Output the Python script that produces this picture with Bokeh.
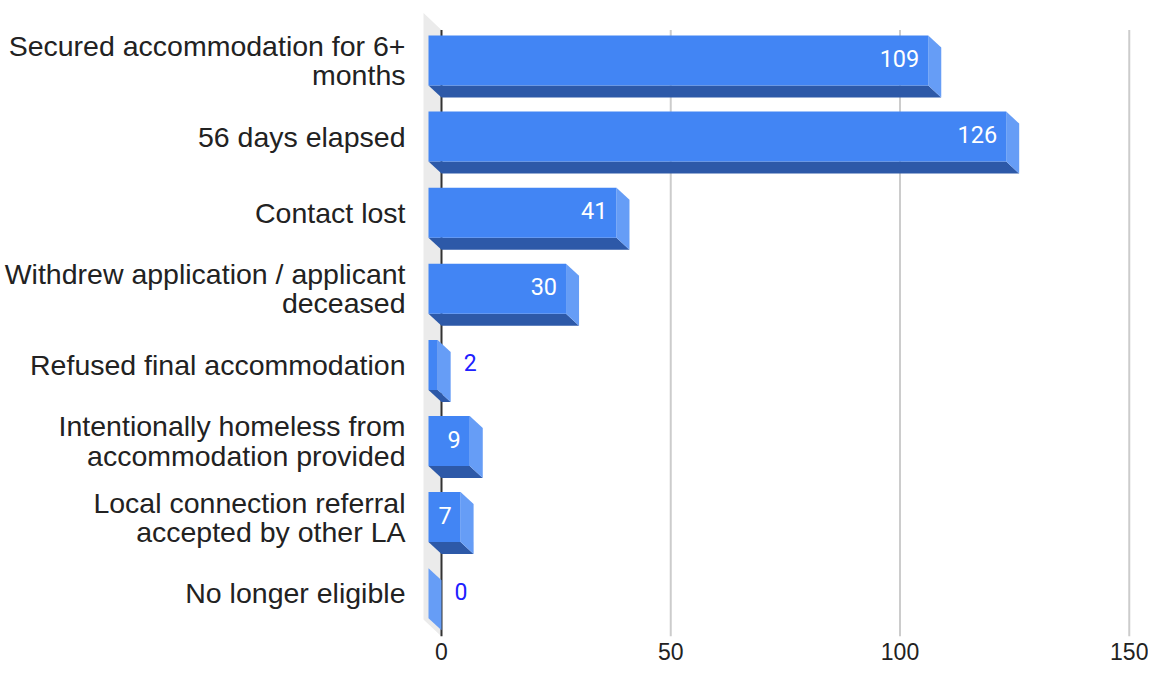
from bokeh.plotting import figure
from bokeh.models import Range1d, FixedTicker, ColumnDataSource
from bokeh.core.properties import value
from bokeh.embed import file_html
from bokeh.resources import INLINE

# ---------------- data ----------------
categories = [
    "Secured accommodation for 6+\nmonths",
    "56 days elapsed",
    "Contact lost",
    "Withdrew application / applicant\ndeceased",
    "Refused final accommodation",
    "Intentionally homeless from\naccommodation provided",
    "Local connection referral\naccepted by other LA",
    "No longer eligible",
]
values = [109, 126, 41, 30, 2, 9, 7, 0]
x_ticks = [0, 50, 100, 150]

# ---------------- layout constants (pixels) ----------------
W, H = 1148, 664
FRAME_LEFT = 415          # canvas px of frame left edge
BOTTOM_BORDER = 28
ZERO_PX = 441             # canvas px of the value 0 (back plane)
PX_X = 4.585              # pixels per value unit
FIRST_CAT_PX = 60         # canvas px of the first category centre
PX_Y = 76.1               # pixels per category step

x_start = (FRAME_LEFT - ZERO_PX) / PX_X
x_end = (W - ZERO_PX) / PX_X
frame_bottom = H - BOTTOM_BORDER
y_top = (0 - FIRST_CAT_PX) / PX_Y
y_bottom = (frame_bottom - FIRST_CAT_PX) / PX_Y

DX = 13 / PX_X     # 3D depth (x)
DY = 12 / PX_Y     # 3D depth (y)
HH = 25 / PX_Y     # half height of bar front face
DXW = 18 / PX_X    # wall depth
DYW = 17 / PX_Y
top_back = -0.5 + 0.1

FRONT = "#4285f4"
SIDE = "#669df6"
BOTTOM = "#2d59a8"

p = figure(width=W, height=H, output_backend="svg", toolbar_location=None,
           x_range=Range1d(x_start, x_end), y_range=Range1d(y_bottom, y_top),
           min_border_left=FRAME_LEFT, min_border_right=0, min_border_top=0,
           min_border_bottom=BOTTOM_BORDER)
p.outline_line_color = None
p.xgrid.visible = False
p.ygrid.visible = False
p.background_fill_color = "white"
p.border_fill_color = "white"

# wall (light gray, left side)
p.patch([-DXW, 0, 0, -DXW],
        [top_back - DYW, top_back, y_bottom, y_bottom - DYW],
        fill_color="#ebebeb", line_color=None)

# gridlines
grid_x = [t for t in x_ticks if t != 0]
p.segment(x0=grid_x, y0=[top_back] * len(grid_x), x1=grid_x, y1=[y_bottom] * len(grid_x),
          line_color="#cccccc", line_width=2)
# baseline axis line
p.segment(x0=[0], y0=[top_back], x1=[0], y1=[y_bottom], line_color="#333333", line_width=2)

n = len(values)
idx = list(range(n))

# bottom faces
p.patches(xs=[[-DX, v - DX, v, 0] for v in values],
          ys=[[i + HH, i + HH, i + HH + DY, i + HH + DY] for i in idx],
          fill_color=BOTTOM, line_color=None)
# side faces
p.patches(xs=[[v - DX, v, v, v - DX] for v in values],
          ys=[[i - HH, i - HH + DY, i + HH + DY, i + HH] for i in idx],
          fill_color=SIDE, line_color=None)
# front faces
p.quad(left=[-DX] * n, right=[v - DX for v in values],
       top=[i - HH for i in idx], bottom=[i + HH for i in idx],
       fill_color=FRONT, line_color=None)

# value labels
inside = [v * PX_X >= len(str(v)) * 13 + 16 for v in values]
src_in = ColumnDataSource(dict(x=[v - DX for v, f in zip(values, inside) if f],
                               y=[i for i, f in zip(idx, inside) if f],
                               t=[str(v) for v, f in zip(values, inside) if f]))
src_out = ColumnDataSource(dict(x=[v for v, f in zip(values, inside) if not f],
                                y=[i for i, f in zip(idx, inside) if not f],
                                t=[str(v) for v, f in zip(values, inside) if not f]))
p.text(x="x", y="y", text="t", source=src_in, x_offset=-9, y_offset=-2,
       text_align="right", text_baseline="middle", text_color="white",
       text_font=value("Roboto"), text_font_size="23.5px")
p.text(x="x", y="y", text="t", source=src_out, x_offset=13, y_offset=-2,
       text_align="left", text_baseline="middle", text_color="#2020ff",
       text_font=value("Roboto"), text_font_size="23px")

# axes
p.xaxis.ticker = FixedTicker(ticks=x_ticks)
p.xaxis.axis_line_color = None
p.xaxis.major_tick_line_color = None
p.xaxis.minor_tick_line_color = None
p.xaxis.major_label_standoff = 0
p.xaxis.major_label_text_font = "Liberation Sans"
p.xaxis.major_label_text_font_size = "23px"
p.xaxis.major_label_text_color = "#222222"

p.yaxis.ticker = FixedTicker(ticks=idx)
p.yaxis.major_label_overrides = {i: c for i, c in zip(idx, categories)}
p.yaxis.axis_line_color = None
p.yaxis.major_tick_line_color = None
p.yaxis.minor_tick_line_color = None
p.yaxis.major_label_standoff = 4
p.yaxis.major_label_text_font = "Liberation Sans"
p.yaxis.major_label_text_font_size = "28.5px"
p.yaxis.major_label_text_line_height = 0.91
p.yaxis.major_label_text_color = "#222222"

open("out.html", "w").write(file_html(p, INLINE))
